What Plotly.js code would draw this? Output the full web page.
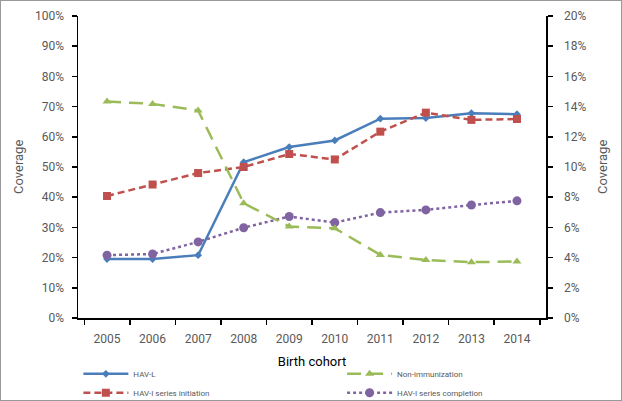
<!DOCTYPE html>
<html>
<head>
<meta charset="utf-8">
<script src="https://cdn.plot.ly/plotly-3.0.1.min.js"></script>
<style>
html,body{margin:0;padding:0;background:#fff;}
#wrap{position:relative;width:622px;height:401px;}
#chart{width:622px;height:401px;}
#frame{position:absolute;left:0;top:0;width:620px;height:399px;border:1px solid #999;pointer-events:none;}
</style>
</head>
<body>
<div id="wrap"><div id="chart"></div><div id="frame"></div></div>
<script>
const years = ['2005','2006','2007','2008','2009','2010','2011','2012','2013','2014'];
const havL = [0.195,0.195,0.208,0.516,0.566,0.588,0.660,0.662,0.678,0.675];
const initiation = [0.404,0.442,0.480,0.500,0.543,0.525,0.617,0.680,0.656,0.659];
const completion = [0.208,0.212,0.252,0.299,0.336,0.316,0.349,0.358,0.374,0.388];
// Non-immunization plotted on the secondary (right) axis
const nonImm = [0.1434,0.1418,0.1374,0.0760,0.0606,0.0594,0.0418,0.0384,0.0370,0.0374];
const yTitle = 'Coverage';
const xTitle = 'Birth cohort';

const traces = [
  {x: years, y: havL, name: 'HAV-L', type: 'scatter', mode: 'lines+markers', legend: 'legend',
   line: {color: '#4a7ebb', width: 2.5}, marker: {symbol: 'diamond', size: 6, color: '#4a7ebb'}},
  {x: years, y: initiation, name: 'HAV-I series initiation', type: 'scatter', mode: 'lines+markers', legend: 'legend',
   line: {color: '#c0504d', width: 2.5, dash: '7px,4px'}, marker: {symbol: 'square', size: 8, color: '#c0504d'}},
  {x: years, y: nonImm, name: 'Non-immunization', type: 'scatter', mode: 'lines+markers', yaxis: 'y2', legend: 'legend2',
   line: {color: '#9bbb59', width: 2.5, dash: '14px,8px'}, marker: {symbol: 'triangle-up', size: 8, color: '#9bbb59'}},
  {x: years, y: completion, name: 'HAV-I series completion', type: 'scatter', mode: 'lines+markers', legend: 'legend2',
   line: {color: '#8064a2', width: 2.5, dash: 'dot'}, marker: {symbol: 'circle', size: 9, color: '#8064a2'}}
];

const legendBase = {orientation: 'v', xref: 'container', yref: 'container', xanchor: 'left', y: 0.104, yanchor: 'top',
                    tracegroupgap: 0, font: {size: 8, color: '#595959'}, itemwidth: 45, bgcolor: 'rgba(0,0,0,0)'};

const layout = {
  width: 622, height: 401,
  margin: {l: 78, r: 76, t: 16, b: 83, autoexpand: false},
  paper_bgcolor: '#fff', plot_bgcolor: '#fff',
  font: {family: 'Roboto, "Open Sans", sans-serif', color: '#595959', size: 11},
  showlegend: true,
  legend: Object.assign({}, legendBase, {x: 0.126}),
  legend2: Object.assign({}, legendBase, {x: 0.550}),
  xaxis: {type: 'category', tickson: 'boundaries', ticks: 'outside', ticklen: 5, tickcolor: '#000', tickwidth: 1.5,
          showline: true, linecolor: '#000', linewidth: 1.5, showgrid: false, zeroline: false,
          ticklabelstandoff: 9, tickangle: 0, automargin: false,
          tickfont: {size: 12, color: '#595959'},
          title: {text: xTitle, font: {size: 13, color: '#000'}, standoff: 12}},
  yaxis: {range: [0, 1], dtick: 0.1, tickformat: '.0%', ticks: 'outside', ticklen: 5, tickcolor: '#000', tickwidth: 1.5,
          showline: true, linecolor: '#000', linewidth: 1.5, showgrid: false, zeroline: false,
          ticklabelstandoff: 5, automargin: false,
          tickfont: {size: 12, color: '#595959'}},
  yaxis2: {range: [0, 0.2], dtick: 0.02, tickformat: '.0%', overlaying: 'y', side: 'right',
           ticks: 'outside', ticklen: 5, tickcolor: '#000', tickwidth: 1.5,
           showline: true, linecolor: '#000', linewidth: 1.5, showgrid: false, zeroline: false,
           ticklabelstandoff: 9, automargin: false,
           tickfont: {size: 12, color: '#595959'}},
  annotations: [
    {text: yTitle, xref: 'paper', yref: 'paper', x: -60/468, y: 0.5, xanchor: 'center', yanchor: 'middle',
     textangle: -90, showarrow: false, font: {size: 13, color: '#595959'}},
    {text: yTitle, xref: 'paper', yref: 'paper', x: 1 + 56/468, y: 0.5, xanchor: 'center', yanchor: 'middle',
     textangle: -90, showarrow: false, font: {size: 13, color: '#595959'}}
  ]
};

Plotly.newPlot('chart', traces, layout, {displayModeBar: false, staticPlot: true});
</script>
</body>
</html>
